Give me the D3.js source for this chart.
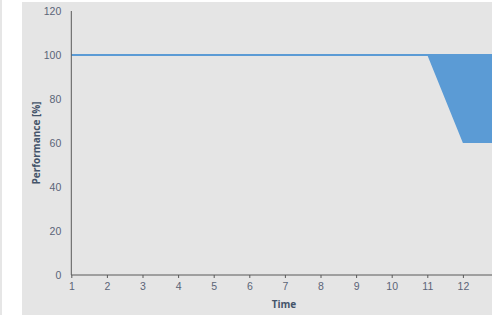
<!DOCTYPE html>
<html>
<head>
<meta charset="utf-8">
<script src="https://cdn.jsdelivr.net/npm/d3@7"></script>
<style>
	body { margin: 0; background: #fff; overflow: hidden; }
	svg { display: block; font-family: "Open Sans", sans-serif; }
	.tick text { fill: #5b6477; font-size: 10.5px; }
	.axis path, .axis line { stroke: #595959; }
	.axtitle { fill: #44546a; font-size: 10px; font-weight: bold; }
</style>
</head>
<body>
<svg class="chart"></svg>
<script>
// Values
var times = [1, 2, 3, 4, 5, 6, 7, 8, 9, 10, 11, 12, 13];
var target = [100, 100, 100, 100, 100, 100, 100, 100, 100, 100, 100, 100, 100];
var actual = [100, 100, 100, 100, 100, 100, 100, 100, 100, 100, 100, 60, 60];
var xTicks = [1, 2, 3, 4, 5, 6, 7, 8, 9, 10, 11, 12];
var yTicks = [0, 20, 40, 60, 80, 100, 120];

function drawChart() {
	var W = 492, H = 315;
	var svg = d3.select(".chart")
		.attr("width", W)
		.attr("height", H);

	// frame
	svg.append("rect").attr("x", 0).attr("y", 0).attr("width", 2).attr("height", H).attr("fill", "#e6e6e6");
	svg.append("rect").attr("x", 22).attr("y", 2).attr("width", W - 22).attr("height", H - 2).attr("fill", "#e5e5e5");

	var x = d3.scaleLinear()
		.domain([1, 13])
		.range([71.3, 71.3 + 12 * 35.6]);

	var y = d3.scaleLinear()
		.domain([0, 120])
		.range([275, 11]);

	var rows = times.map(function(t, i) {
		return {t: t, top: target[i], low: actual[i]};
	});

	var area = d3.area()
		.x(function(d) { return x(d.t); })
		.y0(function(d) { return y(d.low); })
		.y1(function(d) { return y(d.top); });

	svg.append("path")
		.datum(rows)
		.attr("d", area)
		.attr("fill", "#5b9bd5");

	var line = d3.line()
		.x(function(d) { return x(d.t); })
		.y(function(d) { return y(d.top); });

	svg.append("path")
		.datum(rows)
		.attr("d", line)
		.attr("fill", "none")
		.attr("stroke", "#5b9bd5")
		.attr("stroke-width", 2);

	var yAxis = d3.axisLeft(y)
		.tickValues(yTicks)
		.tickSize(0)
		.tickPadding(10);

	svg.append("g")
		.attr("class", "axis")
		.attr("transform", "translate(" + x(1) + ",0)")
		.call(yAxis)
		.call(function(g) { g.select(".domain").attr("d", "M0," + y(0) + "V" + y(120)); });

	var xAxis = d3.axisBottom(x)
		.tickValues(xTicks)
		.tickFormat(d3.format("d"))
		.tickSize(3)
		.tickPadding(5);

	svg.append("g")
		.attr("class", "axis")
		.attr("transform", "translate(0," + y(0) + ")")
		.call(xAxis)
		.call(function(g) {
			g.select(".domain").attr("d", "M" + x(1) + ",0H" + W);
			g.selectAll(".tick line").attr("y1", 0).attr("y2", 3);
		});

	svg.append("text")
		.attr("class", "axtitle")
		.attr("x", 284)
		.attr("y", 308)
		.attr("text-anchor", "middle")
		.text("Time");

	svg.append("text")
		.attr("class", "axtitle")
		.attr("transform", "translate(40,143) rotate(-90)")
		.attr("text-anchor", "middle")
		.text("Performance [%]");
}

drawChart();
</script>
</body>
</html>
